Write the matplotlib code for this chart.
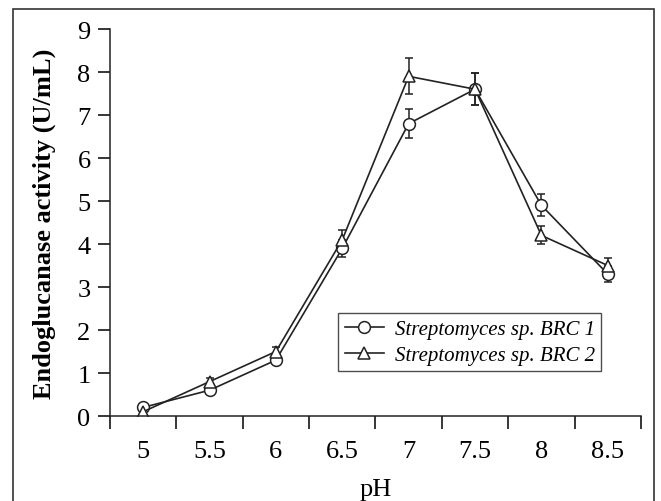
import matplotlib
matplotlib.use("Agg")
import matplotlib.pyplot as plt
from matplotlib.patches import Rectangle
from matplotlib.lines import Line2D

# data
ph_labels = ["5", "5.5", "6", "6.5", "7", "7.5", "8", "8.5"]
brc1 = [0.2, 0.6, 1.3, 3.9, 6.8, 7.6, 4.9, 3.3]
brc1_err = [0.05, 0.05, 0.07, 0.2, 0.33, 0.37, 0.26, 0.18]
brc2 = [0.1, 0.8, 1.5, 4.1, 7.9, 7.6, 4.2, 3.5]
brc2_err = [0.03, 0.08, 0.1, 0.22, 0.42, 0.37, 0.21, 0.17]
names = ['Streptomyces sp. BRC 1', 'Streptomyces sp. BRC 2']

plt.rcParams['font.family'] = ['Liberation Serif', 'DejaVu Serif']

fig = plt.figure(figsize=(6.61, 5.02), dpi=100)
ax = fig.add_axes([0.1664, 0.1693, 0.8033, 0.7709])

x = [i + 0.5 for i in range(len(ph_labels))]
col = '#222222'
style = dict(color=col, lw=1.2, ms=8.5, mfc='white', mec=col, mew=1.1)
ax.errorbar(x, brc1, yerr=brc1_err, marker='o', capsize=3, elinewidth=1.1,
            capthick=1.1, **style)
ax.errorbar(x, brc2, yerr=brc2_err, marker='^', capsize=3, elinewidth=1.1,
            capthick=1.1, **style)

ax.set_xlim(0, 8)
ax.set_ylim(0, 9)
ax.set_xticks(range(9))
ax.set_xticklabels([])
ax.set_xticks(x, minor=True)
ax.set_xticklabels(ph_labels, minor=True)
ax.tick_params(axis='x', which='major', length=9, width=1.1, direction='out')
ax.tick_params(axis='x', which='minor', length=0, pad=17, labelsize=19)
ax.set_yticks(range(10))
ax.tick_params(axis='y', length=9, width=1.1, direction='out', pad=5, labelsize=19)

for s in ['top', 'right']:
    ax.spines[s].set_visible(False)
for s in ['left', 'bottom']:
    ax.spines[s].set_linewidth(1.1)
    ax.spines[s].set_color(col)

ax.set_xlabel('pH', fontsize=19, labelpad=12)
ax.set_ylabel('Endoglucanase activity (U/mL)', fontsize=19, fontweight='bold', labelpad=15)

handles = [Line2D([], [], marker='o', **style), Line2D([], [], marker='^', **style)]
leg = ax.legend(handles, names, loc='lower left', bbox_to_anchor=(0.43, 0.116),
                borderaxespad=0, prop={'style': 'italic', 'size': 15}, frameon=True,
                fancybox=False, edgecolor=col, handlelength=1.9, borderpad=0.3,
                labelspacing=0.3, handletextpad=0.5)
leg.get_frame().set_linewidth(1.0)

fig.patches.append(Rectangle((0.019, -0.05), 0.971, 1.03, transform=fig.transFigure,
                             fill=False, edgecolor='#333333', lw=1.2))

fig.savefig('out.png', dpi=100)
